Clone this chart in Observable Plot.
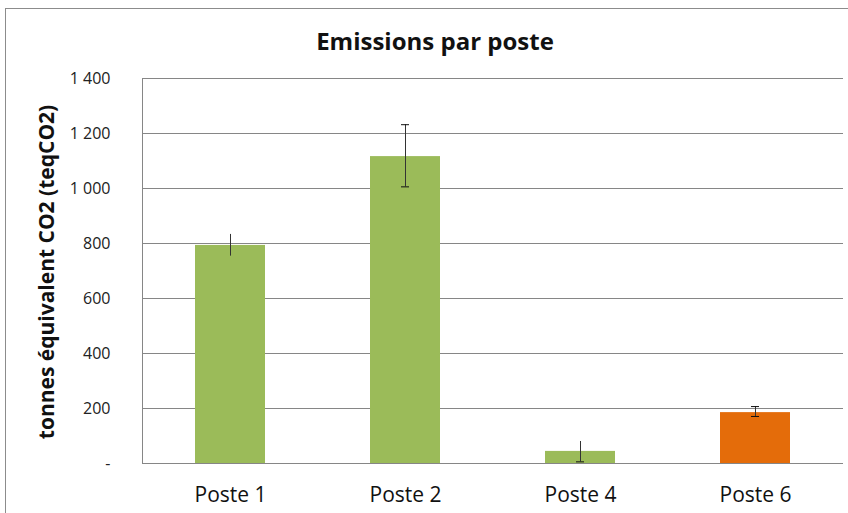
<!DOCTYPE html>
<html><head><meta charset="utf-8">
<script src="https://cdn.jsdelivr.net/npm/d3@7"></script>
<script src="https://cdn.jsdelivr.net/npm/@observablehq/plot@0.6"></script>
<style>
body{margin:0;background:#fff;font-family:"Open Sans",sans-serif;}
#wrap{position:relative;width:848px;height:513px;overflow:hidden;}
#frame{position:absolute;left:5px;top:8px;width:900px;height:600px;border-left:1px solid #8c8c8c;border-top:1px solid #8c8c8c;}
#title{position:absolute;left:0;top:25px;width:848px;text-align:center;font-weight:bold;font-size:24px;line-height:32px;padding-left:22px;box-sizing:border-box;color:#111;}
#ylab{position:absolute;left:46px;top:272px;transform:translate(-50%,-50%) rotate(-90deg);white-space:nowrap;font-weight:bold;font-size:21px;color:#111;}
#chart{position:absolute;left:0;top:60px;}
</style></head>
<body><div id="wrap"><div id="frame"></div><div id="title">Emissions par poste</div><div id="ylab">tonnes équivalent CO2 (teqCO2)</div><div id="chart"></div></div>
<script>
const categories = ["Poste 1","Poste 2","Poste 4","Poste 6"];
const values = [793, 1116, 44, 185];
const errLow = [754, 1006, 6, 171];
const errHigh = [833, 1232, 80, 207];
const capTop = [false, true, false, true];
const capBottom = [false, true, true, true];
const colors = ["#9BBB59","#9BBB59","#9BBB59","#E46C0A"];
const yTicks = [0,200,400,600,800,1000,1200,1400];

const data = categories.map((c,i)=>({cat:c, v:values[i], lo:errLow[i], hi:errHigh[i], col:colors[i], ct:capTop[i], cb:capBottom[i]}));
const fmt = d => d===0 ? "-" : d3.format(",")(d).replace(/,/g," ");

const chart = Plot.plot({
  width:848, height:453,
  marginTop:18, marginBottom:50, marginLeft:142, marginRight:5,
  style:{fontFamily:"'Open Sans', sans-serif", background:"transparent"},
  x:{domain:categories, paddingInner:0.6, paddingOuter:0.3, label:null},
  y:{domain:[0,1400], label:null},
  marks:[
    Plot.gridY(yTicks, {stroke:"#868686", strokeOpacity:1, strokeWidth:1}),
    Plot.frame({anchor:"left", stroke:"#868686"}),
    Plot.barY(data, {x:"cat", y:"v", fill:d=>d.col}),
    Plot.ruleX(data, {x:"cat", y1:"lo", y2:"hi", stroke:"#333", strokeWidth:1}),
    Plot.tickY(data.filter(d=>d.ct), {x:"cat", y:"hi", stroke:"#111", strokeWidth:1, inset:31}),
    Plot.tickY(data.filter(d=>d.cb), {x:"cat", y:"lo", stroke:"#111", strokeWidth:1, inset:31}),
    Plot.ruleY([0], {stroke:"#868686"}),
    Plot.axisY({ticks:yTicks, tickFormat:fmt, tickSize:0, tickPadding:32, fontSize:16, fill:"#222"}),
    Plot.axisX({tickSize:0, tickPadding:24, fontSize:21, fill:"#111"})
  ]
});
document.getElementById("chart").appendChild(chart);
</script></body></html>
